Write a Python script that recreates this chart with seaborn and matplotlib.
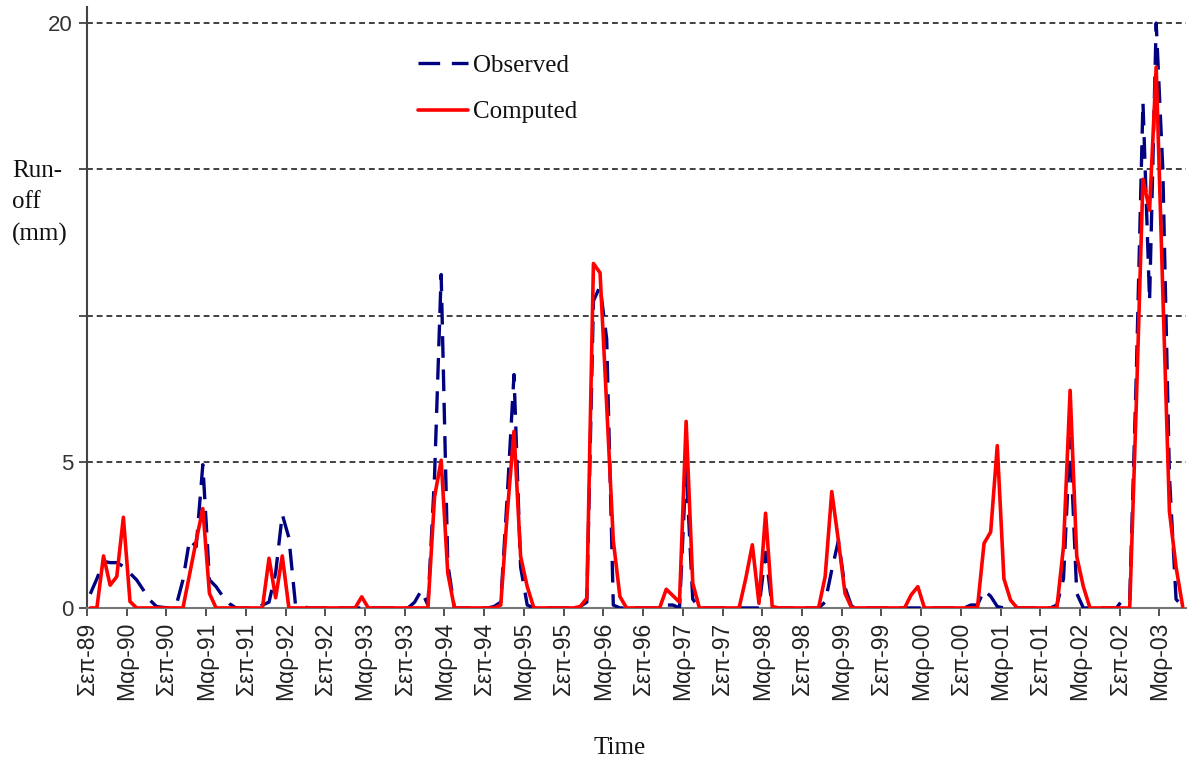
import numpy as np
import pandas as pd
import matplotlib
matplotlib.use("Agg")
import matplotlib.pyplot as plt
import seaborn as sns

# monthly run-off (mm), Sep-89 ... Jun-03
observed = [
    0.48, 1.0, 1.59, 1.55, 1.55, 1.42, 1.19, 0.96, 0.62, 0.27, 0.05, 0.02,
    0.0, 0.1, 0.96, 2.33, 2.1, 4.9, 0.96, 0.73, 0.4, 0.15, 0.0, 0.0,
    0.0, 0.0, 0.1, 0.2, 1.2, 3.2, 2.4, 0.1, 0.05, 0.0, 0.0, 0.0,
    0.0, 0.0, 0.0, 0.0, 0.0, 0.0, 0.0, 0.0, 0.0, 0.0, 0.0, 0.0,
    0.0, 0.2, 0.6, 0.1, 4.5, 11.4, 1.5, 0.0, 0.0, 0.0, 0.0, 0.0,
    0.0, 0.05, 0.2, 3.9, 7.98, 1.4, 0.1, 0.0, 0.0, 0.0, 0.0, 0.0,
    0.0, 0.0, 0.05, 0.2, 10.5, 11.0, 9.2, 0.1, 0.0, 0.0, 0.0, 0.0,
    0.0, 0.0, 0.0, 0.1, 0.1, 0.0, 4.8, 0.3, 0.0, 0.0, 0.0, 0.0,
    0.0, 0.0, 0.0, 0.0, 0.0, 0.0, 1.9, 0.0, 0.0, 0.0, 0.0, 0.0,
    0.0, 0.0, 0.0, 0.2, 1.3, 2.3, 0.7, 0.05, 0.0, 0.0, 0.0, 0.0,
    0.0, 0.0, 0.0, 0.0, 0.0, 0.0, 0.0, 0.0, 0.0, 0.0, 0.0, 0.0,
    0.0, 0.1, 0.1, 0.6, 0.4, 0.05, 0.0, 0.0, 0.0, 0.0, 0.0, 0.0,
    0.0, 0.0, 0.1, 1.0, 5.8, 0.5, 0.0, 0.0, 0.0, 0.0, 0.0, 0.0,
    0.3, 0.25, 8.0, 17.3, 10.5, 20.0, 15.0, 4.5, 0.3, 0.05,
]
computed = [
    0.0, 0.0, 1.78, 0.78, 1.07, 3.1, 0.22, 0.0, 0.0, 0.0, 0.0, 0.0,
    0.0, 0.0, 0.0, 1.15, 2.3, 3.4, 0.5, 0.0, 0.0, 0.0, 0.0, 0.0,
    0.0, 0.0, 0.0, 1.7, 0.35, 1.78, 0.0, 0.0, 0.0, 0.0, 0.0, 0.0,
    0.0, 0.0, 0.0, 0.0, 0.0, 0.38, 0.0, 0.0, 0.0, 0.0, 0.0, 0.0,
    0.0, 0.0, 0.0, 0.0, 3.8, 5.05, 1.19, 0.0, 0.0, 0.0, 0.0, 0.0,
    0.0, 0.0, 0.1, 3.3, 6.04, 1.76, 0.73, 0.0, 0.0, 0.0, 0.0, 0.0,
    0.0, 0.0, 0.05, 0.33, 11.78, 11.46, 6.94, 2.3, 0.39, 0.0, 0.0, 0.0,
    0.0, 0.0, 0.0, 0.64, 0.42, 0.2, 6.38, 0.85, 0.0, 0.0, 0.0, 0.0,
    0.0, 0.0, 0.0, 1.0, 2.16, 0.16, 3.24, 0.05, 0.0, 0.0, 0.0, 0.0,
    0.0, 0.0, 0.0, 1.07, 3.98, 2.3, 0.5, 0.0, 0.0, 0.0, 0.0, 0.0,
    0.0, 0.0, 0.0, 0.0, 0.45, 0.73, 0.0, 0.0, 0.0, 0.0, 0.0, 0.0,
    0.0, 0.0, 0.0, 2.21, 2.6, 5.55, 1.0, 0.27, 0.0, 0.0, 0.0, 0.0,
    0.0, 0.0, 0.0, 2.1, 7.44, 1.76, 0.73, 0.0, 0.0, 0.0, 0.0, 0.0,
    0.0, 0.0, 7.0, 14.66, 13.6, 18.5, 10.8, 3.3, 1.4, 0.05,
]
tick_labels = [
    "Σεπ-89", "Μαρ-90", "Σεπ-90", "Μαρ-91", "Σεπ-91", "Μαρ-92", "Σεπ-92",
    "Μαρ-93", "Σεπ-93", "Μαρ-94", "Σεπ-94", "Μαρ-95", "Σεπ-95", "Μαρ-96",
    "Σεπ-96", "Μαρ-97", "Σεπ-97", "Μαρ-98", "Σεπ-98", "Μαρ-99", "Σεπ-99",
    "Μαρ-00", "Σεπ-00", "Μαρ-01", "Σεπ-01", "Μαρ-02", "Σεπ-02", "Μαρ-03",
]
y_ticks = [0, 5, 10, 15, 20]
y_tick_labels = ["0", "5", "", "", "20"]

df = pd.DataFrame({"month": np.arange(len(observed)) + 0.5,
                   "Observed": observed, "Computed": computed})

sns.set_style("white")
plt.rcParams["font.family"] = ["Liberation Sans", "DejaVu Sans"]
serif = ["Liberation Serif", "DejaVu Serif"]

fig = plt.figure(figsize=(11.88, 7.61), dpi=100)
ax = fig.add_axes([0.0732, 0.2011, 0.9251, 0.7897])

sns.lineplot(data=df, x="month", y="Observed", ax=ax, color="#000080",
             linewidth=2.4, linestyle=(0, (6.5, 3.5)), label="Observed", zorder=3)
sns.lineplot(data=df, x="month", y="Computed", ax=ax, color="#FF0000",
             linewidth=2.6, label="Computed", zorder=4)

ax.set_xlim(0, len(observed))
ax.set_ylim(0, 20.55)
ax.set_xticks(np.arange(len(tick_labels)) * 6)
ax.set_xticklabels(tick_labels, rotation=90, fontsize=16.5, color="#222222")
ax.set_yticks(y_ticks)
ax.set_yticklabels(y_tick_labels, fontsize=16, color="#333333")
ax.tick_params(axis="both", direction="out", length=6, width=1.3,
               color="#444444", left=True, bottom=True, pad=4)

ax.yaxis.grid(True, linestyle=(0, (3, 2)), color="#404040", linewidth=1.4)
ax.xaxis.grid(False)
ax.set_axisbelow(True)

for side in ["top", "right"]:
    ax.spines[side].set_visible(False)
ax.spines["left"].set_color("#444444")
ax.spines["left"].set_linewidth(1.5)
ax.spines["bottom"].set_color("#777777")
ax.spines["bottom"].set_linewidth(1.5)

ax.set_ylabel("")
ax.set_xlabel("Time", fontsize=18, family=serif, color="#111111")
ax.xaxis.set_label_coords(0.485, -0.233)
ax.xaxis.label.set_va("center")

fig.text(12 / 1188, 1 - 160 / 761, "Run-\noff\n(mm)", fontsize=18,
         family=serif, ha="left", va="top", linespacing=1.55, color="#111111")

leg = ax.legend(loc="upper left", bbox_to_anchor=(0.281, 0.958), frameon=False,
                prop={"family": serif, "size": 18}, handlelength=2.0,
                handletextpad=0.2, labelspacing=0.95)
for t in leg.get_texts():
    t.set_color("#111111")

fig.savefig("out.png", dpi=100)
